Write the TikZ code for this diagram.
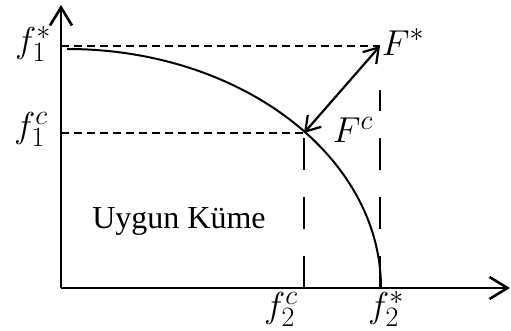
\RequirePackage{fix-cm}
\documentclass[tikz,border=0pt]{standalone}
\usepackage{fontspec}
\setmainfont{Liberation Serif}
\DeclareMathSizes{36}{36}{28}{22}
\usetikzlibrary{arrows.meta}
\tikzset{
  axis/.style={line width=2.6pt,-{Straight Barb[length=18pt,width=22pt]}},
  hdash/.style={line width=1.8pt,dash pattern=on 8pt off 5pt},
  vdash/.style={line width=1.8pt,dash pattern=on 32pt off 27pt},
  front/.style={line width=2pt},
  link/.style={line width=2.2pt,{Straight Barb[length=14pt,width=18pt]}-{Straight Barb[length=14pt,width=18pt]}},
  lbl/.style={font=\fontsize{36}{38}\selectfont,inner sep=0pt},
}
\begin{document}
\begin{tikzpicture}[x=1pt,y=1pt]
    \useasboundingbox (-61,-43) rectangle (450,288);
    % points
    \coordinate (O) at (0,0);
    \coordinate (ytop) at (0,283);
    \coordinate (xend) at (449,0);
    \coordinate (Fs) at (319,242);
    \coordinate (Fc) at (243,155);
    \coordinate (f1s) at (0,242);
    \coordinate (f1c) at (0,155);
    \coordinate (f2s) at (319,0);
    \coordinate (f2c) at (243,0);

    % guide lines
    \draw[hdash] (f1s) -- (Fs);
    \draw[hdash] (f1c) -- (Fc);
    \draw[vdash,shorten >=44pt] (f2s) -- (Fs);
    \draw[vdash] (f2c) -- (Fc);

    % pareto front
    \draw[front] (6,239) arc[start angle=90,end angle=0,x radius=314,y radius=239];

    % axes
    \draw[axis] (O) -- (ytop);
    \draw[axis] (O) -- (xend);

    % link between points
    \draw[link] (Fc) -- (Fs);

    % labels
    \node[lbl] (lf1s) at (-28,244) {$f_1^*$};
    \node[lbl] (lf1c) at (-30,159) {$f_1^c$};
    \node[lbl] (lFs) at (342,246) {$F^*$};
    \node[lbl] (lFc) at (292,158) {$F^c$};
    \node[lbl] (lf2c) at (220,-21) {$f_2^c$};
    \node[lbl] (lf2s) at (325,-21) {$f_2^*$};
    \node[font=\fontsize{32}{34}\selectfont,inner sep=0pt,anchor=base] (set) at (118,59) {Uygun Küme};
  \end{tikzpicture}
\end{document}
